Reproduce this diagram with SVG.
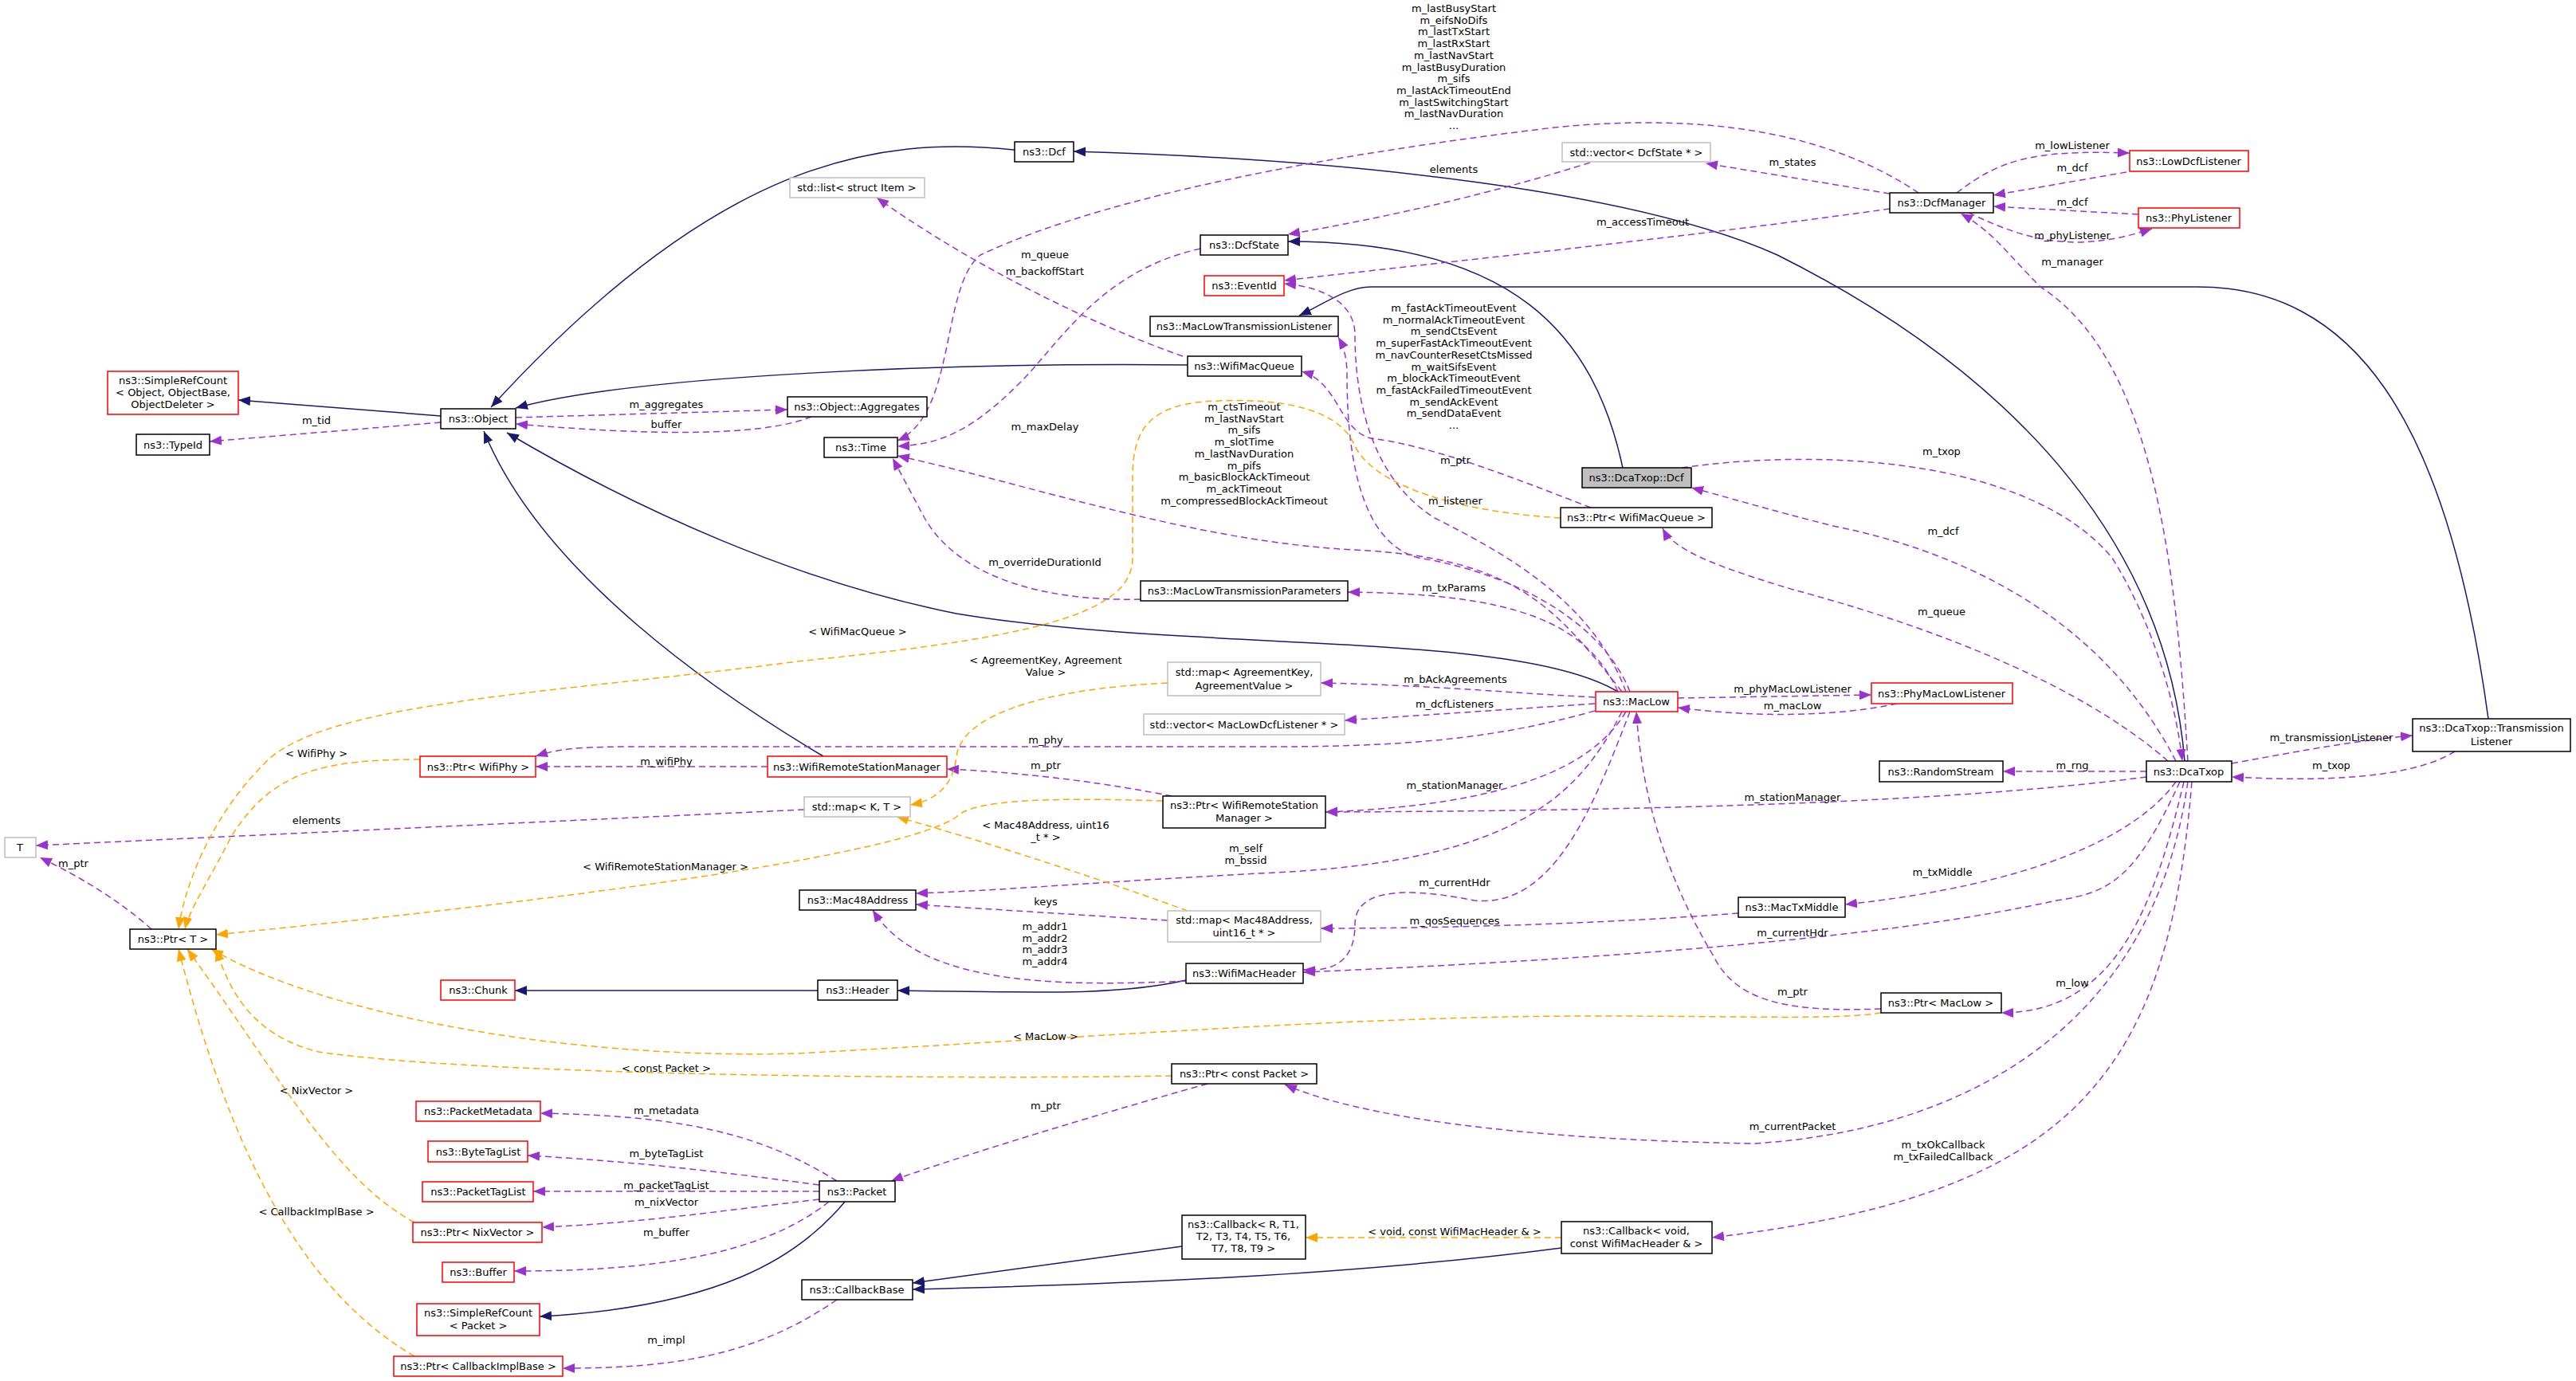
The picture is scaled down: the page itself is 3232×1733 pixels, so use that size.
<svg xmlns="http://www.w3.org/2000/svg" width="3232" height="1733" viewBox="0 0 3232 1733">
<style>
text{font-family:"DejaVu Sans","Liberation Sans",sans-serif;font-size:13px;fill:#000}
.nd text{text-anchor:middle}
.b{fill:#fff;stroke:#000;stroke-width:1.5}
.r{fill:#fff;stroke:#ff0000;stroke-width:1.5}
.g{fill:#fff;stroke:#bfbfbf;stroke-width:1.5}
.sel{fill:#bfbfbf;stroke:#000;stroke-width:1.5}
.i{fill:none;stroke:#191970;stroke-width:1.5;marker-end:url(#ai)}
.u{fill:none;stroke:#9a32cd;stroke-width:1.5;stroke-dasharray:8,5;marker-end:url(#au)}
.t{fill:none;stroke:#ffa500;stroke-width:1.5;stroke-dasharray:8,5;marker-end:url(#at)}
.lb{text-anchor:middle}
</style>
<defs>
<marker id="ai" markerUnits="userSpaceOnUse" markerWidth="16" markerHeight="12" refX="15" refY="6" orient="auto"><path d="M0,0L15,6L0,12z" fill="#191970"/></marker>
<marker id="au" markerUnits="userSpaceOnUse" markerWidth="16" markerHeight="12" refX="15" refY="6" orient="auto"><path d="M0,0L15,6L0,12z" fill="#9a32cd"/></marker>
<marker id="at" markerUnits="userSpaceOnUse" markerWidth="16" markerHeight="12" refX="15" refY="6" orient="auto"><path d="M0,0L15,6L0,12z" fill="#ffa500"/></marker>
</defs>
<rect width="3232" height="1733" fill="#fff"/>
<g id="edges">
<path class="i" d="M1273,188 C1100,170 900,200 616,511"/>
<path class="i" d="M2741,955 C2720,700 2550,480 2230,320 C2050,240 1700,200 1347,190"/>
<path class="i" d="M2036,587 C2000,420 1900,303 1616,303"/>
<path class="i" d="M3122,902 C3070,520 2950,360 2757,360 L1720,360 C1690,360 1660,382 1630,396"/>
<path class="i" d="M1490,458 C1200,455 800,470 647,512"/>
<path class="i" d="M2030,868 C1900,790 1500,820 1200,770 C1000,730 800,640 636,543"/>
<path class="i" d="M1033,949 C900,870 680,720 607,541"/>
<path class="i" d="M1026,1243 L646,1243"/>
<path class="i" d="M1488,1230 C1400,1250 1300,1245 1126,1243"/>
<path class="i" d="M1060,1508 C1000,1580 900,1640 677,1652"/>
<path class="i" d="M1483,1564 L1145,1610"/>
<path class="i" d="M1959,1566 C1700,1600 1400,1612 1145,1618"/>
<path class="i" d="M553,522 L299,502"/>

<path class="u" d="M553,530 L263,554"/>
<path class="u" d="M647,524 L988,514"/>
<path class="u" d="M1018,523 C950,550 800,545 647,532"/>
<path class="u" d="M1484,447 C1350,400 1200,320 1100,248"/>
<path class="u" d="M1506,312 C1380,340 1330,430 1280,480 C1220,540 1180,558 1126,560"/>
<path class="u" d="M2407,242 C2300,170 2150,140 1950,160 C1700,190 1400,240 1230,320 C1180,360 1200,520 1126,553"/>
<path class="u" d="M2371,243 L2140,205"/>
<path class="u" d="M1995,204 C1850,250 1700,280 1616,294"/>
<path class="u" d="M2371,262 C2100,300 1800,330 1611,352"/>
<path class="u" d="M2455,242 C2510,200 2550,188 2672,192"/>
<path class="u" d="M2668,216 L2501,245"/>
<path class="u" d="M2683,269 L2501,259"/>
<path class="u" d="M2470,267 C2540,300 2600,320 2700,287"/>
<path class="u" d="M2745,955 C2730,700 2700,450 2560,360 C2520,320 2500,290 2460,268"/>
<path class="u" d="M2110,587 C2300,560 2550,580 2650,700 C2700,780 2730,880 2738,955"/>
<path class="u" d="M2730,955 C2650,800 2500,700 2300,660 C2220,640 2160,622 2122,612"/>
<path class="u" d="M2720,955 C2600,850 2400,780 2250,740 C2150,710 2100,690 2086,663"/>
<path class="u" d="M1996,637 C1900,600 1800,560 1720,550 C1680,540 1680,480 1633,466"/>
<path class="u" d="M2040,868 C2000,760 1900,700 1800,650 C1720,600 1700,500 1700,420 C1700,380 1660,360 1611,356"/>
<path class="u" d="M2045,868 C2010,780 1900,720 1780,700 C1700,680 1690,550 1690,470 C1690,445 1684,432 1679,423"/>
<path class="u" d="M2035,868 C1950,760 1900,700 1700,690 C1500,680 1300,610 1126,572"/>
<path class="u" d="M2030,868 C1990,780 1900,745 1691,743"/>
<path class="u" d="M1431,752 C1300,755 1200,720 1160,650 L1120,575"/>
<path class="u" d="M2001,875 C1900,870 1800,860 1657,857"/>
<path class="u" d="M2001,883 L1687,904"/>
<path class="u" d="M2001,892 C1900,920 1800,937 1600,937 L800,937 C720,937 700,940 672,949"/>
<path class="u" d="M2040,893 C2000,960 1900,1010 1663,1019"/>
<path class="u" d="M2035,893 C1980,1000 1900,1080 1600,1095 C1400,1105 1250,1118 1149,1121"/>
<path class="u" d="M2045,893 C2000,1010 1950,1140 1850,1130 C1750,1110 1700,1120 1700,1160 C1700,1200 1680,1220 1635,1217"/>
<path class="u" d="M2105,876 L2348,872"/>
<path class="u" d="M2380,883 C2300,900 2200,900 2105,888"/>
<path class="u" d="M2360,1266 C2250,1270 2180,1260 2150,1200 C2090,1100 2060,1000 2053,893"/>
<path class="u" d="M963,962 L672,962"/>
<path class="u" d="M1470,999 C1400,985 1300,970 1188,965"/>
<path class="u" d="M1009,1016 L45,1061"/>
<path class="u" d="M190,1166 C150,1130 100,1100 50,1076"/>
<path class="u" d="M1465,1155 L1149,1135"/>
<path class="u" d="M1488,1231 C1300,1240 1150,1230 1095,1142"/>
<path class="u" d="M2181,1146 C2000,1160 1800,1165 1657,1165"/>
<path class="u" d="M2693,968 L2513,968"/>
<path class="u" d="M2800,958 C2900,940 2950,930 3027,923"/>
<path class="u" d="M3080,943 C3020,980 2900,980 2800,975"/>
<path class="u" d="M2693,975 C2500,1000 2200,1017 1663,1019"/>
<path class="u" d="M2730,981 C2680,1050 2550,1110 2315,1135"/>
<path class="u" d="M2735,981 C2680,1100 2650,1120 2580,1130 C2400,1170 2100,1200 1635,1220"/>
<path class="u" d="M2740,981 C2700,1150 2650,1270 2511,1271"/>
<path class="u" d="M2745,981 C2700,1300 2450,1420 2200,1435 C1900,1430 1700,1400 1612,1361"/>
<path class="u" d="M2750,981 C2720,1350 2600,1500 2148,1553"/>
<path class="u" d="M1515,1360 C1300,1420 1150,1470 1118,1482"/>
<path class="u" d="M1050,1482 C950,1420 850,1400 678,1397"/>
<path class="u" d="M1028,1487 C900,1470 800,1458 662,1450"/>
<path class="u" d="M1028,1495 L669,1495"/>
<path class="u" d="M1028,1505 C900,1520 800,1535 680,1540"/>
<path class="u" d="M1040,1508 C950,1580 800,1595 645,1595"/>
<path class="u" d="M1050,1631 C950,1700 850,1717 706,1717"/>

<path class="t" d="M1958,650 C1800,640 1720,600 1700,560 C1680,510 1600,500 1530,503 C1440,505 1421,540 1421,600 L1421,700 C1421,770 1300,800 1000,830 C700,870 400,880 330,960 C260,1030 230,1120 224,1166"/>
<path class="t" d="M2360,1271 C2300,1280 2200,1275 2000,1275 C1700,1275 1400,1300 1000,1322 C700,1330 400,1270 265,1191"/>
<path class="t" d="M1459,1005 C1300,1000 1220,1005 1200,1025 C1150,1060 900,1110 271,1173"/>
<path class="t" d="M527,953 C400,953 340,970 290,1050 C265,1100 238,1140 232,1166"/>
<path class="t" d="M1465,857 C1300,865 1205,900 1200,950 C1195,990 1170,1005 1142,1010"/>
<path class="t" d="M1490,1143 C1400,1110 1250,1060 1125,1025"/>
<path class="t" d="M1470,1350 C1200,1355 600,1350 400,1320 C320,1300 290,1250 271,1191"/>
<path class="t" d="M520,1534 C420,1480 350,1350 235,1191"/>
<path class="t" d="M520,1702 C380,1620 290,1450 224,1191"/>
<path class="t" d="M1959,1553 L1638,1553"/>
</g>
<g id="labels">
<text class="lb" x="1824" y="15"><tspan x="1824">m_lastBusyStart</tspan><tspan x="1824" dy="14.7">m_eifsNoDifs</tspan><tspan x="1824" dy="14.7">m_lastTxStart</tspan><tspan x="1824" dy="14.7">m_lastRxStart</tspan><tspan x="1824" dy="14.7">m_lastNavStart</tspan><tspan x="1824" dy="14.7">m_lastBusyDuration</tspan><tspan x="1824" dy="14.7">m_sifs</tspan><tspan x="1824" dy="14.7">m_lastAckTimeoutEnd</tspan><tspan x="1824" dy="14.7">m_lastSwitchingStart</tspan><tspan x="1824" dy="14.7">m_lastNavDuration</tspan><tspan x="1824" dy="14.7">...</tspan></text>
<text class="lb" x="1824" y="391"><tspan x="1824">m_fastAckTimeoutEvent</tspan><tspan x="1824" dy="14.7">m_normalAckTimeoutEvent</tspan><tspan x="1824" dy="14.7">m_sendCtsEvent</tspan><tspan x="1824" dy="14.7">m_superFastAckTimeoutEvent</tspan><tspan x="1824" dy="14.7">m_navCounterResetCtsMissed</tspan><tspan x="1824" dy="14.7">m_waitSifsEvent</tspan><tspan x="1824" dy="14.7">m_blockAckTimeoutEvent</tspan><tspan x="1824" dy="14.7">m_fastAckFailedTimeoutEvent</tspan><tspan x="1824" dy="14.7">m_sendAckEvent</tspan><tspan x="1824" dy="14.7">m_sendDataEvent</tspan><tspan x="1824" dy="14.7">...</tspan></text>
<text class="lb" x="1561" y="515"><tspan x="1561">m_ctsTimeout</tspan><tspan x="1561" dy="14.7">m_lastNavStart</tspan><tspan x="1561" dy="14.7">m_sifs</tspan><tspan x="1561" dy="14.7">m_slotTime</tspan><tspan x="1561" dy="14.7">m_lastNavDuration</tspan><tspan x="1561" dy="14.7">m_pifs</tspan><tspan x="1561" dy="14.7">m_basicBlockAckTimeout</tspan><tspan x="1561" dy="14.7">m_ackTimeout</tspan><tspan x="1561" dy="14.7">m_compressedBlockAckTimeout</tspan></text>
<text class="lb" x="1311" y="324">m_queue</text>
<text class="lb" x="1311" y="345">m_backoffStart</text>
<text class="lb" x="1311" y="540">m_maxDelay</text>
<text class="lb" x="1311" y="710">m_overrideDurationId</text>
<text class="lb" x="1826" y="582">m_ptr</text>
<text class="lb" x="1826" y="633">m_listener</text>
<text class="lb" x="1824" y="742">m_txParams</text>
<text class="lb" x="1826" y="857">m_bAckAgreements</text>
<text class="lb" x="1076" y="797">&lt; WifiMacQueue &gt;</text>
<text class="lb" x="1312" y="833"><tspan x="1312">&lt; AgreementKey, Agreement</tspan><tspan x="1312" dy="15">Value &gt;</tspan></text>
<text class="lb" x="1824" y="217">elements</text>
<text class="lb" x="2061" y="283">m_accessTimeout</text>
<text class="lb" x="2600" y="187">m_lowListener</text>
<text class="lb" x="2600" y="215">m_dcf</text>
<text class="lb" x="2600" y="258">m_dcf</text>
<text class="lb" x="2600" y="300">m_phyListener</text>
<text class="lb" x="2600" y="333">m_manager</text>
<text class="lb" x="2249" y="208">m_states</text>
<text class="lb" x="2436" y="571">m_txop</text>
<text class="lb" x="2438" y="671">m_dcf</text>
<text class="lb" x="2436" y="772">m_queue</text>
<text class="lb" x="2249" y="869">m_phyMacLowListener</text>
<text class="lb" x="2249" y="890">m_macLow</text>
<text class="lb" x="2925" y="930">m_transmissionListener</text>
<text class="lb" x="2925" y="965">m_txop</text>
<text class="lb" x="2600" y="965">m_rng</text>
<text class="lb" x="397" y="532">m_tid</text>
<text class="lb" x="836" y="512">m_aggregates</text>
<text class="lb" x="836" y="537">buffer</text>
<text class="lb" x="1825" y="888">m_dcfListeners</text>
<text class="lb" x="1312" y="933">m_phy</text>
<text class="lb" x="1312" y="965">m_ptr</text>
<text class="lb" x="1825" y="990">m_stationManager</text>
<text class="lb" x="1312" y="1040"><tspan x="1312">&lt; Mac48Address, uint16</tspan><tspan x="1312" dy="14.7">_t * &gt;</tspan></text>
<text class="lb" x="1563" y="1069"><tspan x="1563">m_self</tspan><tspan x="1563" dy="14.7">m_bssid</tspan></text>
<text class="lb" x="1825" y="1112">m_currentHdr</text>
<text class="lb" x="1312" y="1136">keys</text>
<text class="lb" x="1825" y="1160">m_qosSequences</text>
<text class="lb" x="1311" y="1167"><tspan x="1311">m_addr1</tspan><tspan x="1311" dy="14.7">m_addr2</tspan><tspan x="1311" dy="14.7">m_addr3</tspan><tspan x="1311" dy="14.7">m_addr4</tspan></text>
<text class="lb" x="1312" y="1305">&lt; MacLow &gt;</text>
<text class="lb" x="1312" y="1392">m_ptr</text>
<text class="lb" x="1825" y="1550">&lt; void, const WifiMacHeader &amp; &gt;</text>
<text class="lb" x="397" y="950">&lt; WifiPhy &gt;</text>
<text class="lb" x="836" y="960">m_wifiPhy</text>
<text class="lb" x="397" y="1034">elements</text>
<text class="lb" x="92" y="1088">m_ptr</text>
<text class="lb" x="835" y="1092">&lt; WifiRemoteStationManager &gt;</text>
<text class="lb" x="836" y="1345">&lt; const Packet &gt;</text>
<text class="lb" x="397" y="1373">&lt; NixVector &gt;</text>
<text class="lb" x="836" y="1398">m_metadata</text>
<text class="lb" x="836" y="1452">m_byteTagList</text>
<text class="lb" x="836" y="1492">m_packetTagList</text>
<text class="lb" x="836" y="1513">m_nixVector</text>
<text class="lb" x="836" y="1551">m_buffer</text>
<text class="lb" x="397" y="1525">&lt; CallbackImplBase &gt;</text>
<text class="lb" x="836" y="1686">m_impl</text>
<text class="lb" x="2249" y="1005">m_stationManager</text>
<text class="lb" x="2437" y="1099">m_txMiddle</text>
<text class="lb" x="2249" y="1175">m_currentHdr</text>
<text class="lb" x="2249" y="1249">m_ptr</text>
<text class="lb" x="2600" y="1238">m_low</text>
<text class="lb" x="2249" y="1418">m_currentPacket</text>
<text class="lb" x="2438" y="1441"><tspan x="2438">m_txOkCallback</tspan><tspan x="2438" dy="14.7">m_txFailedCallback</tspan></text>
</g>
<g class="nd">
<g id="n_dcf"><rect class="b" x="1273" y="178" width="74" height="25"/><text x="1310" y="195">ns3::Dcf</text></g>
<g id="n_list"><rect class="g" x="991" y="223" width="169" height="25"/><text x="1075" y="240">std::list&lt; struct Item &gt;</text></g>
<g id="n_dcfstate"><rect class="b" x="1506" y="295" width="110" height="25"/><text x="1561" y="312">ns3::DcfState</text></g>
<g id="n_eventid"><rect class="r" x="1511" y="346" width="100" height="25"/><text x="1561" y="363">ns3::EventId</text></g>
<g id="n_mltl"><rect class="b" x="1443" y="397" width="236" height="25"/><text x="1561" y="414">ns3::MacLowTransmissionListener</text></g>
<g id="n_wmq"><rect class="b" x="1490" y="447" width="143" height="25"/><text x="1561" y="464">ns3::WifiMacQueue</text></g>
<g id="n_agg"><rect class="b" x="988" y="498" width="175" height="25"/><text x="1075" y="515">ns3::Object::Aggregates</text></g>
<g id="n_time"><rect class="b" x="1034" y="549" width="92" height="25"/><text x="1080" y="566">ns3::Time</text></g>
<g id="n_mltp"><rect class="b" x="1431" y="729" width="260" height="25"/><text x="1561" y="746">ns3::MacLowTransmissionParameters</text></g>
<g id="n_mapak"><rect class="g" x="1465" y="831" width="192" height="42"/><text x="1561" y="848">std::map&lt; AgreementKey,</text><text x="1561" y="865">AgreementValue &gt;</text></g>
<g id="n_dcatxopdcf"><rect class="sel" x="1985" y="587" width="137" height="25"/><text x="2053" y="604">ns3::DcaTxop::Dcf</text></g>
<g id="n_ptrwmq"><rect class="b" x="1958" y="637" width="190" height="25"/><text x="2053" y="654">ns3::Ptr&lt; WifiMacQueue &gt;</text></g>
<g id="n_vecds"><rect class="g" x="1960" y="179" width="186" height="24"/><text x="2053" y="196">std::vector&lt; DcfState * &gt;</text></g>
<g id="n_dcfmgr"><rect class="b" x="2371" y="242" width="130" height="25"/><text x="2436" y="259">ns3::DcfManager</text></g>
<g id="n_lowdcf"><rect class="r" x="2672" y="189" width="149" height="26"/><text x="2746" y="207">ns3::LowDcfListener</text></g>
<g id="n_phyl"><rect class="r" x="2683" y="261" width="127" height="25"/><text x="2746" y="278">ns3::PhyListener</text></g>
<g id="n_dcatxop"><rect class="b" x="2693" y="955" width="107" height="26"/><text x="2746" y="973">ns3::DcaTxop</text></g>
<g id="n_txl"><rect class="b" x="3027" y="902" width="198" height="41"/><text x="3126" y="918">ns3::DcaTxop::Transmission</text><text x="3126" y="935">Listener</text></g>
<g id="n_rs"><rect class="b" x="2358" y="955" width="155" height="26"/><text x="2435" y="973">ns3::RandomStream</text></g>
<g id="n_pmll"><rect class="r" x="2348" y="857" width="177" height="26"/><text x="2436" y="875">ns3::PhyMacLowListener</text></g>
<g id="n_src_obj"><rect class="r" x="135" y="466" width="164" height="54"/><text x="217" y="482">ns3::SimpleRefCount</text><text x="217" y="497">&lt; Object, ObjectBase,</text><text x="217" y="512">ObjectDeleter &gt;</text></g>
<g id="n_typeid"><rect class="b" x="171" y="545" width="92" height="26"/><text x="217" y="563">ns3::TypeId</text></g>
<g id="n_object"><rect class="b" x="553" y="513" width="94" height="25"/><text x="600" y="530">ns3::Object</text></g>
<g id="n_T"><rect class="g" x="6" y="1051" width="39" height="25"/><text x="25" y="1068">T</text></g>
<g id="n_ptrT"><rect class="b" x="163" y="1166" width="108" height="25"/><text x="217" y="1183">ns3::Ptr&lt; T &gt;</text></g>
<g id="n_ptrwifiphy"><rect class="r" x="527" y="949" width="145" height="26"/><text x="600" y="967">ns3::Ptr&lt; WifiPhy &gt;</text></g>
<g id="n_wrsm"><rect class="r" x="963" y="949" width="225" height="26"/><text x="1075" y="967">ns3::WifiRemoteStationManager</text></g>
<g id="n_mapkt"><rect class="g" x="1009" y="1000" width="133" height="25"/><text x="1075" y="1017">std::map&lt; K, T &gt;</text></g>
<g id="n_mac48"><rect class="b" x="1003" y="1117" width="146" height="25"/><text x="1076" y="1134">ns3::Mac48Address</text></g>
<g id="n_chunk"><rect class="r" x="553" y="1230" width="93" height="25"/><text x="600" y="1247">ns3::Chunk</text></g>
<g id="n_header"><rect class="b" x="1026" y="1230" width="100" height="25"/><text x="1076" y="1247">ns3::Header</text></g>
<g id="n_pmeta"><rect class="r" x="522" y="1382" width="156" height="25"/><text x="600" y="1399">ns3::PacketMetadata</text></g>
<g id="n_btl"><rect class="r" x="537" y="1432" width="125" height="26"/><text x="600" y="1450">ns3::ByteTagList</text></g>
<g id="n_ptl"><rect class="r" x="530" y="1483" width="139" height="25"/><text x="600" y="1500">ns3::PacketTagList</text></g>
<g id="n_ptrnix"><rect class="r" x="518" y="1534" width="162" height="25"/><text x="599" y="1551">ns3::Ptr&lt; NixVector &gt;</text></g>
<g id="n_buffer"><rect class="r" x="555" y="1584" width="90" height="25"/><text x="600" y="1601">ns3::Buffer</text></g>
<g id="n_src_pkt"><rect class="r" x="523" y="1636" width="154" height="40"/><text x="600" y="1652">ns3::SimpleRefCount</text><text x="600" y="1668">&lt; Packet &gt;</text></g>
<g id="n_ptrcib"><rect class="r" x="494" y="1702" width="212" height="25"/><text x="600" y="1719">ns3::Ptr&lt; CallbackImplBase &gt;</text></g>
<g id="n_packet"><rect class="b" x="1028" y="1482" width="95" height="26"/><text x="1075" y="1500">ns3::Packet</text></g>
<g id="n_cbbase"><rect class="b" x="1006" y="1606" width="139" height="25"/><text x="1075" y="1623">ns3::CallbackBase</text></g>
<g id="n_cbR"><rect class="b" x="1483" y="1525" width="155" height="55"/><text x="1560" y="1541">ns3::Callback&lt; R, T1,</text><text x="1560" y="1556">T2, T3, T4, T5, T6,</text><text x="1560" y="1571">T7, T8, T9 &gt;</text></g>
<g id="n_cbvoid"><rect class="b" x="1959" y="1533" width="189" height="40"/><text x="2053" y="1549">ns3::Callback&lt; void,</text><text x="2053" y="1565">const WifiMacHeader &amp; &gt;</text></g>
<g id="n_ptrcp"><rect class="b" x="1470" y="1335" width="182" height="25"/><text x="1561" y="1352">ns3::Ptr&lt; const Packet &gt;</text></g>
<g id="n_wmh"><rect class="b" x="1488" y="1209" width="147" height="25"/><text x="1561" y="1226">ns3::WifiMacHeader</text></g>
<g id="n_mapmac"><rect class="g" x="1465" y="1143" width="192" height="39"/><text x="1561" y="1159">std::map&lt; Mac48Address,</text><text x="1561" y="1175">uint16_t * &gt;</text></g>
<g id="n_ptrwrsm"><rect class="b" x="1459" y="999" width="204" height="40"/><text x="1561" y="1015">ns3::Ptr&lt; WifiRemoteStation</text><text x="1561" y="1031">Manager &gt;</text></g>
<g id="n_vecmldl"><rect class="g" x="1435" y="896" width="252" height="26"/><text x="1561" y="914">std::vector&lt; MacLowDcfListener * &gt;</text></g>
<g id="n_maclow"><rect class="r" x="2002" y="868" width="103" height="25"/><text x="2053" y="885">ns3::MacLow</text></g>
<g id="n_mactxm"><rect class="b" x="2181" y="1126" width="134" height="25"/><text x="2248" y="1143">ns3::MacTxMiddle</text></g>
<g id="n_ptrmaclow"><rect class="b" x="2360" y="1246" width="151" height="25"/><text x="2435" y="1263">ns3::Ptr&lt; MacLow &gt;</text></g>
</g>
</svg>
